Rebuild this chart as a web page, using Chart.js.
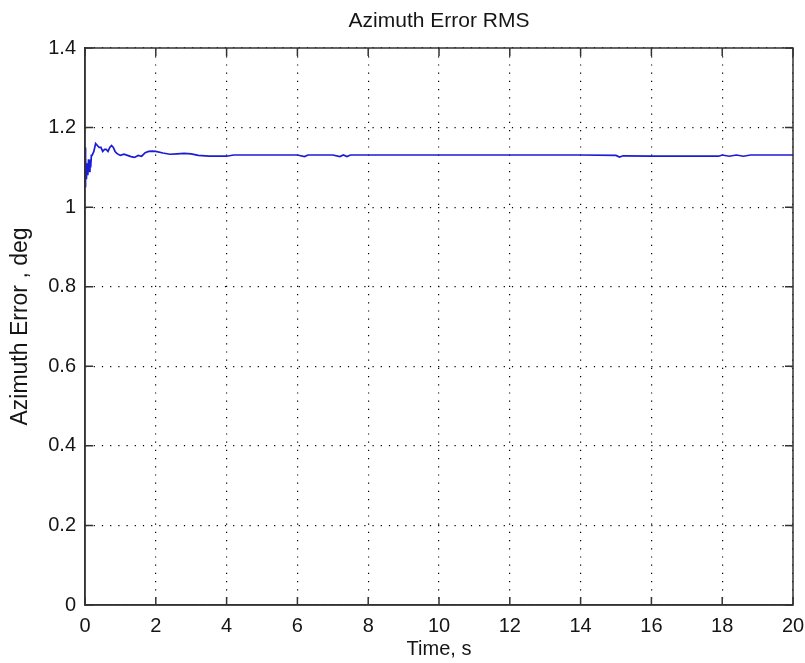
<!DOCTYPE html>
<html>
<head>
<meta charset="utf-8">
<script src="https://cdn.jsdelivr.net/npm/chart.js@4/dist/chart.umd.min.js"></script>
<style>
  html, body { margin: 0; padding: 0; background: #fff; }
  #wrap { width: 805px; height: 663px; }
</style>
</head>
<body>
<div id="wrap"><canvas id="c" width="805" height="663"></canvas></div>
<script>
// ---- Data ----
const chartTitle = "Azimuth Error RMS";
const xAxisTitle = "Time, s";
const yAxisTitle = "Azimuth Error , deg";

const timeValues = [
  0, 0.01, 0.02, 0.04, 0.06, 0.08, 0.1, 0.12, 0.14, 0.16, 0.18, 0.2,
  0.25, 0.3, 0.35, 0.4, 0.45, 0.5, 0.55, 0.6, 0.65, 0.7, 0.75, 0.8,
  0.85, 0.9, 0.95, 1.0, 1.1, 1.2, 1.3, 1.4, 1.5, 1.6, 1.7, 1.8, 1.9,
  2.0, 2.2, 2.4, 2.6, 2.8, 3.0, 3.2, 3.5, 4.0, 4.2, 5.0, 6.0, 6.2,
  6.3, 7.0, 7.2, 7.3, 7.4, 7.5, 8.0, 10.0, 12.0, 14.0, 15.0, 15.1,
  15.2, 16.0, 17.0, 17.9, 18.0, 18.2, 18.4, 18.6, 18.8, 18.9, 19.0, 20.0
];
const rmsValues = [
  1.15, 1.05, 1.12, 1.07, 1.11, 1.08, 1.12, 1.09, 1.12, 1.10, 1.13, 1.13,
  1.14, 1.16, 1.155, 1.15, 1.15, 1.14, 1.145, 1.145, 1.14, 1.15, 1.155, 1.15,
  1.14, 1.135, 1.132, 1.13, 1.133, 1.13, 1.127, 1.125, 1.13, 1.128, 1.137, 1.14, 1.141,
  1.14, 1.136, 1.133, 1.134, 1.135, 1.134, 1.13, 1.128, 1.128, 1.131, 1.131, 1.131, 1.127,
  1.131, 1.131, 1.127, 1.131, 1.127, 1.131, 1.131, 1.131, 1.131, 1.131, 1.130, 1.126,
  1.129, 1.128, 1.128, 1.128, 1.131, 1.128, 1.131, 1.128, 1.131, 1.131, 1.131, 1.131
];

const xTickValues = [0, 2, 4, 6, 8, 10, 12, 14, 16, 18, 20];
const xTickLabels = ["0", "2", "4", "6", "8", "10", "12", "14", "16", "18", "20"];
const yTickValues = [0, 0.2, 0.4, 0.6, 0.8, 1, 1.2, 1.4];
const yTickLabels = ["0", "0.2", "0.4", "0.6", "0.8", "1", "1.2", "1.4"];

// ---- Chart ----
const points = timeValues.map((t, i) => ({ x: t, y: rmsValues[i] }));
const FONT = "'Liberation Sans', Arial, sans-serif";
const TXT = "#151515";
const AXIS = "#333333";

function labelFor(values, labels, v) {
  const i = values.findIndex(a => Math.abs(a - v) < 1e-9);
  return i >= 0 ? labels[i] : "";
}

// Box + inward tick marks (MATLAB style)
const boxPlugin = {
  id: "box",
  afterDatasetsDraw(chart) {
    const { ctx, chartArea: a, scales } = chart;
    ctx.save();
    ctx.strokeStyle = AXIS;
    ctx.lineWidth = 1.5;
    const L = 8;
    ctx.beginPath();
    scales.x.ticks.forEach(t => {
      const px = scales.x.getPixelForValue(t.value);
      ctx.moveTo(px, a.bottom); ctx.lineTo(px, a.bottom - L);
      ctx.moveTo(px, a.top); ctx.lineTo(px, a.top + L);
    });
    scales.y.ticks.forEach(t => {
      const py = scales.y.getPixelForValue(t.value);
      ctx.moveTo(a.left, py); ctx.lineTo(a.left + L, py);
      ctx.moveTo(a.right, py); ctx.lineTo(a.right - L, py);
    });
    ctx.stroke();
    ctx.strokeRect(a.left, a.top, a.right - a.left, a.bottom - a.top);
    ctx.restore();
  }
};

new Chart(document.getElementById("c"), {
  type: "line",
  data: {
    datasets: [{
      data: points,
      xAxisID: "x",
      yAxisID: "y",
      borderColor: "#1c1cd6",
      borderWidth: 1.7,
      pointRadius: 0,
      tension: 0,
      fill: false
    }]
  },
  options: {
    responsive: false,
    animation: false,
    devicePixelRatio: 1,
    layout: { padding: { left: 0, right: 12, top: 0, bottom: 0 } },
    plugins: {
      legend: { display: false },
      tooltip: { enabled: false },
      title: { display: false }
    },
    scales: {
      xTop: {
        type: "linear",
        position: "top",
        min: 0, max: 20,
        afterFit: s => { s.height = 48; s.paddingLeft = 0; s.paddingRight = 0; },
        ticks: { display: false },
        grid: { display: false, drawTicks: false },
        border: { display: false },
        title: {
          display: true,
          text: chartTitle,
          color: TXT,
          font: { family: FONT, size: 21, weight: "normal", lineHeight: 1.2 },
          padding: { top: 9, bottom: 0 }
        }
      },
      x: {
        type: "linear",
        position: "bottom",
        min: 0, max: 20,
        afterBuildTicks: s => { s.ticks = xTickValues.map(v => ({ value: v })); },
        afterFit: s => { s.height = 58; s.paddingLeft = 0; s.paddingRight = 0; },
        ticks: {
          color: TXT,
          padding: 9,
          font: { family: FONT, size: 20 },
          callback: v => labelFor(xTickValues, xTickLabels, v)
        },
        grid: {
          drawTicks: false,
          color: "#000",
          lineWidth: 1.2
        },
        border: { display: true, color: AXIS, width: 1.5, dash: [1.2, 7] },
        title: {
          display: true,
          text: xAxisTitle,
          color: TXT,
          font: { family: FONT, size: 20 },
          padding: { top: 0, bottom: 2 }
        }
      },
      y: {
        type: "linear",
        min: 0, max: 1.4,
        afterBuildTicks: s => { s.ticks = yTickValues.map(v => ({ value: v })); },
        afterFit: s => { s.width = 85; s.paddingTop = 0; s.paddingBottom = 0; },
        ticks: {
          color: TXT,
          padding: 9,
          font: { family: FONT, size: 20 },
          callback: v => labelFor(yTickValues, yTickLabels, v)
        },
        grid: {
          drawTicks: false,
          color: "#000",
          lineWidth: 1.2
        },
        border: { display: true, color: AXIS, width: 1.5, dash: [1.2, 7] },
        title: {
          display: true,
          text: yAxisTitle,
          color: TXT,
          font: { family: FONT, size: 23 },
          padding: { top: 7, bottom: 0 }
        }
      }
    }
  },
  plugins: [boxPlugin]
});
</script>
</body>
</html>
